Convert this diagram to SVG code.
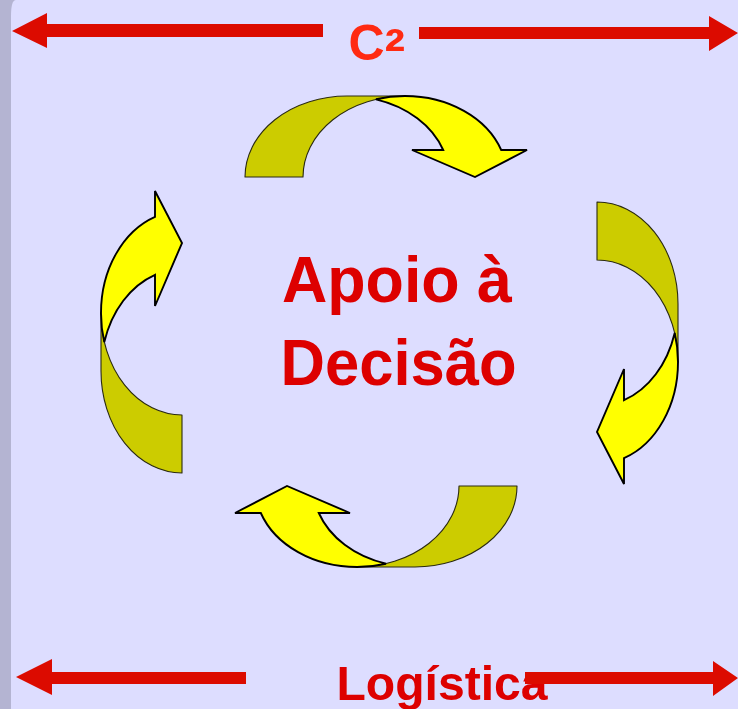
<svg xmlns="http://www.w3.org/2000/svg" xmlns:xlink="http://www.w3.org/1999/xlink" width="738" height="709" viewBox="0 0 738 709">
  <style>
    .axis { fill: #DC0B00; }
    .back { fill: #CCCC00; stroke: #2a2a10; stroke-width: 1.1; stroke-linejoin: round; }
    .front { fill: #FFFF00; stroke: #000000; stroke-width: 1.9; stroke-linejoin: miter; }
    .big { font-family: "Liberation Sans", Arial, sans-serif; font-weight: bold; fill: #DD0000; }
  </style>
  <defs>
    <g id="curved-arrow">
      <path class="back" d="M245,177 A102,81 0 0 1 347,96 L405,96 A102,81 0 0 0 303,177 Z"/>
      <path class="front" d="M376,99.3 A102,81 0 0 1 405,96 A102,81 0 0 1 501.2,150 L527,150 L475,177 L412,150 L443.2,150 A102,81 0 0 0 376,99.3 Z"/>
    </g>
  </defs>

  <g id="background">
    <rect x="0" y="0" width="738" height="709" fill="#B4B4D2"/>
    <path d="M11,16 Q11,0 16,0 L738,0 L738,709 L11,709 Z" fill="#DDDDFF"/>
  </g>

  <g id="connectors">
    <g id="c2-axis">
      <polygon class="axis" points="12,31 47,13 47,24 323,24 323,37 47,37 47,48"/>
      <polygon class="axis" points="419,27 709,27 709,16 738,33 709,51 709,39 419,39"/>
    </g>
    <g id="cycle">
      <use id="arrow-top" xlink:href="#curved-arrow"/>
      <use id="arrow-right" xlink:href="#curved-arrow" transform="matrix(0,1,-1,0,774,-43)"/>
      <use id="arrow-bottom" xlink:href="#curved-arrow" transform="matrix(-1,0,0,-1,762,663)"/>
      <use id="arrow-left" xlink:href="#curved-arrow" transform="matrix(0,-1,1,0,5,718)"/>
    </g>
  </g>

  <g id="c2-label">
    <text x="348.5" y="60" class="big" font-size="50" style="fill:#FF2A12">C<tspan font-size="62" dy="12">²</tspan></text>
  </g>

  <g id="center-node">
    <text x="282" y="302" class="big" font-size="64" textLength="230" lengthAdjust="spacingAndGlyphs">Apoio à</text>
    <text x="280.5" y="385" class="big" font-size="64" textLength="236" lengthAdjust="spacingAndGlyphs">Decisão</text>
  </g>

  <g id="logistica-node">
    <text x="336.5" y="700" class="big" font-size="49" textLength="211" lengthAdjust="spacingAndGlyphs">Logística</text>
  </g>

  <g id="logistica-axis">
    <polygon class="axis" points="16,677 52,659 52,672 246,672 246,684 52,684 52,695"/>
    <polygon class="axis" points="525,672 713,672 713,661 738,678 713,696 713,684 525,684"/>
  </g>
</svg>
